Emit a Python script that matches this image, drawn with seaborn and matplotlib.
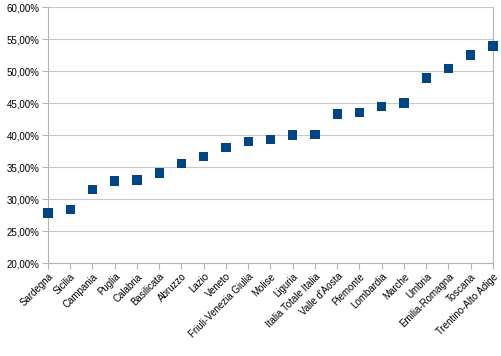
import matplotlib
matplotlib.use('Agg')
import matplotlib.pyplot as plt
import seaborn as sns
import pandas as pd
from matplotlib.ticker import FuncFormatter, MultipleLocator

# Data
regioni = ['Sardegna', 'Sicilia', 'Campania', 'Puglia', 'Calabria', 'Basilicata',
           'Abruzzo', 'Lazio', 'Veneto', 'Friuli-Venezia Giulia', 'Molise', 'Liguria',
           'Italia Totale Italia', "Valle d'Aosta", 'Piemonte', 'Lombardia', 'Marche',
           'Umbria', 'Emilia-Romagna', 'Toscana', 'Trentino-Alto Adige']
valori = [27.8, 28.4, 31.5, 32.8, 33.0, 34.1, 35.6, 36.7, 38.1, 39.0, 39.3, 40.0,
          40.1, 43.3, 43.5, 44.5, 45.0, 48.9, 50.4, 52.5, 53.9]

df = pd.DataFrame({'regione': regioni, 'valore': valori})

sns.set_style('white')
plt.rcParams['font.family'] = ['Liberation Sans', 'DejaVu Sans']

fig = plt.figure(figsize=(5.02, 3.56), dpi=100)
ax = fig.add_axes([0.0956, 0.261, 0.8864, 0.719])

sns.scatterplot(data=df, x='regione', y='valore', marker='s', s=46,
                color='#004586', edgecolor='none', ax=ax, clip_on=False, zorder=3)

ax.set_xlim(0, len(regioni) - 1)
ax.set_ylim(20, 60)
ax.yaxis.set_major_locator(MultipleLocator(5))
ax.yaxis.set_major_formatter(FuncFormatter(lambda v, p: f'{v:.2f}%'.replace('.', ',')))
ax.grid(axis='y', color='#c8c8c8', linewidth=0.8)
ax.set_xlabel('')
ax.set_ylabel('')

for s in ax.spines.values():
    s.set_color('#b3b3b3')
    s.set_linewidth(0.8)
ax.spines['top'].set_visible(False)

ax.set_xticks(range(len(regioni)))
ax.set_xticklabels(regioni, rotation=45, ha='right', rotation_mode='anchor')
ax.tick_params(axis='both', length=4, color='#b3b3b3', labelsize=7,
               labelcolor='#000000', direction='out', bottom=True, left=True)
ax.tick_params(axis='x', pad=2)
ax.tick_params(axis='y', pad=2)

fig.savefig('out.png', dpi=100)
